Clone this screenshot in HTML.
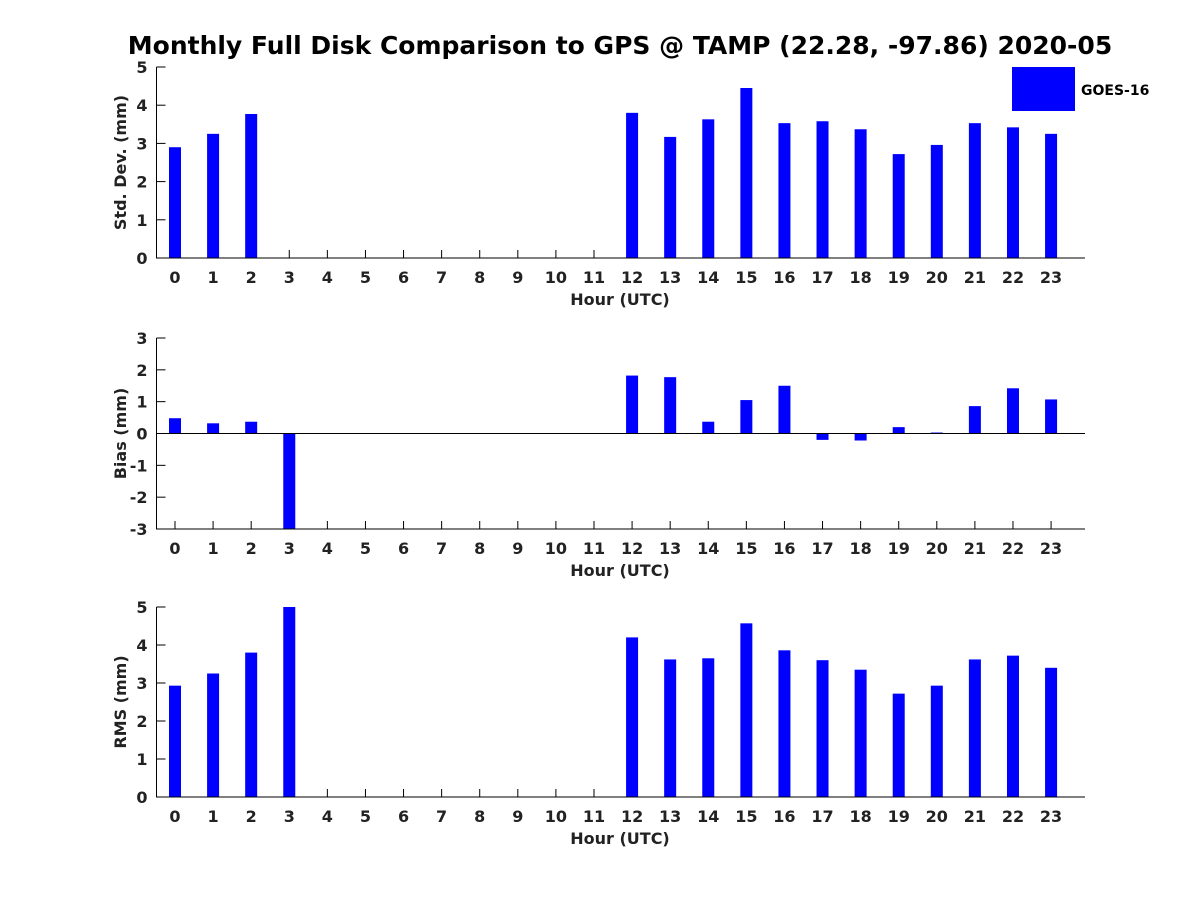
<!DOCTYPE html>
<html><head><meta charset="utf-8"><style>
body{margin:0;background:#fff;}
svg{display:block;font-family:"DejaVu Sans","Liberation Sans",sans-serif;font-weight:bold;}
</style></head><body>
<svg id="chart" width="1200" height="900">
<text x="620" y="54" text-anchor="middle" font-size="25" fill="#000">Monthly Full Disk Comparison to GPS @ TAMP (22.28, -97.86) 2020-05</text>
<rect x="1012" y="67" width="63" height="44" fill="#0000ff"/>
<text x="1081" y="95" font-size="14" fill="#000">GOES-16</text>
</svg>
<script>
const hours=[0,1,2,3,4,5,6,7,8,9,10,11,12,13,14,15,16,17,18,19,20,21,22,23];
const stdDev=[2.9,3.25,3.77,0,0,0,0,0,0,0,0,0,3.8,3.17,3.63,4.45,3.53,3.58,3.37,2.72,2.96,3.53,3.42,3.25];
const bias=[0.48,0.32,0.37,-3.2,0,0,0,0,0,0,0,0,1.82,1.77,0.37,1.05,1.5,-0.2,-0.22,0.2,0.03,0.86,1.42,1.07];
const rms=[2.93,3.25,3.8,5.02,0,0,0,0,0,0,0,0,4.2,3.62,3.65,4.57,3.86,3.6,3.35,2.72,2.93,3.62,3.72,3.4];
const stdTicks=[0,1,2,3,4,5];
const biasTicks=[-3,-2,-1,0,1,2,3];
const rmsTicks=[0,1,2,3,4,5];
const NS='http://www.w3.org/2000/svg';
const svg=document.getElementById('chart');
function mk(t,a){const e=document.createElementNS(NS,t);for(const k in a)e.setAttribute(k,a[k]);svg.appendChild(e);return e;}
const L=156.5,R=1085;
const xS=h=>175+h*38.09;
function panel(name,top,bot,ymin,ymax,ticks,vals,ylabel){
  const yS=v=>bot-(v-ymin)/(ymax-ymin)*(bot-top);
  const clip=mk('clipPath',{id:'c'+name});
  const cr=document.createElementNS(NS,'rect');cr.setAttribute('x',L);cr.setAttribute('y',top);cr.setAttribute('width',R-L);cr.setAttribute('height',bot-top);clip.appendChild(cr);
  hours.forEach(h=>{
    mk('line',{x1:xS(h),x2:xS(h),y1:bot,y2:bot-8,stroke:'#000'});
    const tx=mk('text',{x:xS(h),y:bot+25,'text-anchor':'middle','font-size':16,fill:'#222'});
    tx.textContent=h;
    
  });
  vals.forEach((v,i)=>{
    if(v===0)return;
    const y0=yS(Math.max(0,ymin)),y1=yS(v);
    const b=mk('rect',{x:xS(hours[i])-6,y:Math.min(y0,y1),width:12,height:Math.abs(y1-y0),fill:'#0000ff','clip-path':'url(#c'+name+')'});
    
    
  });
  if(ymin<0){const z=mk('line',{x1:L,x2:R,y1:yS(0),y2:yS(0),stroke:'#000','stroke-width':1});
    }
  const ax=mk('path',{d:`M${L} ${top}V${bot}H${R}`,fill:'none',stroke:'#000','stroke-width':1});
  
  ticks.forEach(t=>{
    mk('line',{x1:L,x2:L+9,y1:yS(t),y2:yS(t),stroke:'#000'});
    const tx=mk('text',{x:L-9,y:yS(t)+6,'text-anchor':'end','font-size':16,fill:'#222'});
    tx.textContent=t;
    
  });
  const xl=mk('text',{x:620,y:bot+47,'text-anchor':'middle','font-size':16,fill:'#222'});
  xl.textContent='Hour (UTC)';
  
  const cy=(top+bot)/2;
  const yl=mk('text',{x:126,y:cy,'text-anchor':'middle','font-size':16,fill:'#222',transform:`rotate(-90 126 ${cy})`});
  yl.textContent=ylabel;
  
}
panel('std-dev',67,258,0,5,stdTicks,stdDev,'Std. Dev. (mm)');
panel('bias',338,529,-3,3,biasTicks,bias,'Bias (mm)');
panel('rms',607,797,0,5,rmsTicks,rms,'RMS (mm)');
</script>
</body></html>
